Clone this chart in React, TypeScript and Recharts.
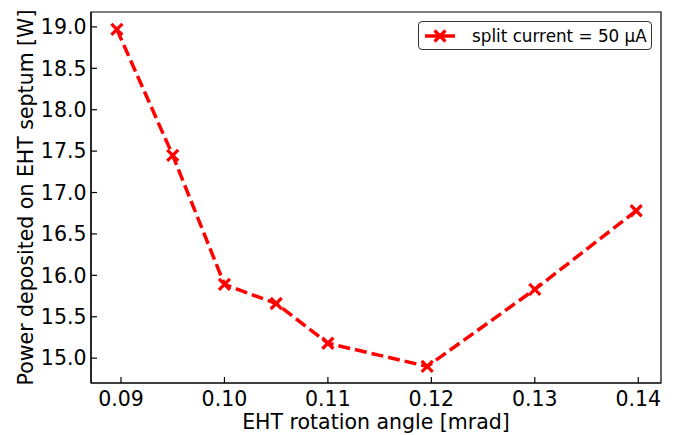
import { LineChart, Line, XAxis, YAxis, ReferenceArea } from "recharts";

const angles = [0.0896, 0.095, 0.1, 0.105, 0.11, 0.1196, 0.13, 0.1398];
const power = [18.97, 17.45, 15.89, 15.66, 15.18, 14.9, 15.83, 16.78];
const xTicks = [0.09, 0.1, 0.11, 0.12, 0.13, 0.14];
const yTicks = [15.0, 15.5, 16.0, 16.5, 17.0, 17.5, 18.0, 18.5, 19.0];

const data = angles.map((a, i) => ({ angle: a, power: power[i] }));

const FONT = "'DejaVu Sans', sans-serif";
const RED = "#ff0000";
const X_DOMAIN = [0.0871, 0.1422];
const Y_DOMAIN = [14.7, 19.18];
const FS = 20.5;

function XMark({ cx, cy, s = 5.5 }: { cx: number; cy: number; s?: number }) {
  return (
    <g stroke={RED} strokeWidth={3.2} strokeLinecap="butt">
      <line x1={cx - s} y1={cy - s} x2={cx + s} y2={cy + s} />
      <line x1={cx - s} y1={cy + s} x2={cx + s} y2={cy - s} />
    </g>
  );
}

export default function App() {
  const tickStyle = { fontSize: FS, fill: "#000", fontFamily: FONT };
  return (
    <div style={{ position: "absolute", left: 0, top: 0, width: 684, height: 435, background: "#fff", fontFamily: FONT }}>
      <LineChart width={684} height={435} data={data} margin={{ top: 12, right: 23, left: 31, bottom: 22 }}>
        <XAxis
          dataKey="angle"
          type="number"
          domain={X_DOMAIN}
          allowDataOverflow
          ticks={xTicks}
          tickFormatter={(v: number) => v.toFixed(2)}
          height={30}
          tick={tickStyle}
          tickSize={-6}
          tickMargin={14}
          axisLine={{ stroke: "#000", strokeWidth: 1.2 }}
          tickLine={{ stroke: "#000", strokeWidth: 1.2 }}
          label={{
            content: ({ viewBox }: any) => (
              <text x={viewBox.x + viewBox.width / 2} y={429} textAnchor="middle" fontSize={FS} fontFamily={FONT} fill="#000">
                EHT rotation angle [mrad]
              </text>
            ),
          }}
        />
        <YAxis
          type="number"
          domain={Y_DOMAIN}
          allowDataOverflow
          ticks={yTicks}
          tickFormatter={(v: number) => v.toFixed(1)}
          width={60}
          tick={tickStyle}
          tickSize={-6}
          tickMargin={10.5}
          axisLine={{ stroke: "#000", strokeWidth: 1.2 }}
          tickLine={{ stroke: "#000", strokeWidth: 1.2 }}
          label={{
            content: ({ viewBox }: any) => {
              const cy = viewBox.y + viewBox.height / 2;
              return (
                <text x={33} y={cy} transform={`rotate(-90 33 ${cy})`} textAnchor="middle" fontSize={FS} fontFamily={FONT} fill="#000">
                  Power deposited on EHT septum [W]
                </text>
              );
            },
          }}
        />
        <ReferenceArea
          x1={X_DOMAIN[0]}
          x2={X_DOMAIN[1]}
          y1={Y_DOMAIN[0]}
          y2={Y_DOMAIN[1]}
          fill="none"
          fillOpacity={0}
          stroke="#000"
          strokeWidth={1.2}
          ifOverflow="visible"
        />
        <Line
          dataKey="power"
          stroke={RED}
          strokeWidth={3.5}
          strokeDasharray="12 5"
          isAnimationActive={false}
          dot={(p: any) => <XMark key={p.index} cx={p.cx} cy={p.cy} />}
          activeDot={false}
        />
      </LineChart>
      <div
        style={{
          position: "absolute",
          left: 418,
          top: 21,
          width: 234,
          height: 29,
          border: "1px solid #333",
          borderRadius: 4,
          boxSizing: "border-box",
          display: "flex",
          alignItems: "center",
          background: "#fff",
        }}
      >
        <svg width={46} height={26} style={{ flex: "none" }}>
          <line x1={6} y1={13} x2={36} y2={13} stroke={RED} strokeWidth={3.5} />
          <XMark cx={21} cy={13} />
        </svg>
        <span style={{ fontSize: 16.8, color: "#000", marginLeft: 7, whiteSpace: "nowrap" }}>split current = 50 µA</span>
      </div>
    </div>
  );
}
